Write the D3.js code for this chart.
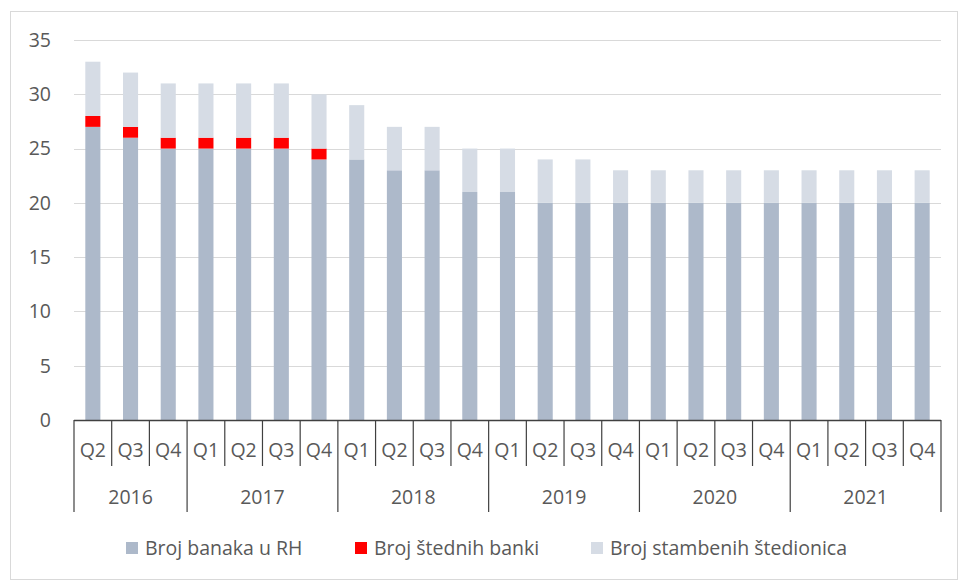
<!DOCTYPE html>
<html>
<head>
<meta charset="utf-8">
<script src="https://cdn.jsdelivr.net/npm/d3@7"></script>
<style>
  body { margin: 0; background: #fff; }
  svg text { font-family: "Open Sans", "Noto Sans", sans-serif; fill: #595959; }
</style>
</head>
<body>
<div id="chart"></div>
<script>
const years = ["2016", "2017", "2018", "2019", "2020", "2021"];
const quarters = [
  "Q2", "Q3", "Q4",
  "Q1", "Q2", "Q3", "Q4",
  "Q1", "Q2", "Q3", "Q4",
  "Q1", "Q2", "Q3", "Q4",
  "Q1", "Q2", "Q3", "Q4",
  "Q1", "Q2", "Q3", "Q4"
];
const quarterYear = [
  "2016", "2016", "2016",
  "2017", "2017", "2017", "2017",
  "2018", "2018", "2018", "2018",
  "2019", "2019", "2019", "2019",
  "2020", "2020", "2020", "2020",
  "2021", "2021", "2021", "2021"
];
const banks = [27, 26, 25, 25, 25, 25, 24, 24, 23, 23, 21, 21, 20, 20, 20, 20, 20, 20, 20, 20, 20, 20, 20];
const savingsBanks = [1, 1, 1, 1, 1, 1, 1, 0, 0, 0, 0, 0, 0, 0, 0, 0, 0, 0, 0, 0, 0, 0, 0];
const housingSavings = [5, 5, 5, 5, 5, 5, 5, 5, 4, 4, 4, 4, 4, 4, 3, 3, 3, 3, 3, 3, 3, 3, 3];
const seriesNames = ["Broj banaka u RH", "Broj štednih banki", "Broj stambenih štedionica"];
const seriesColors = ["#adb9ca", "#ff0000", "#d6dce5"];
const yTicks = [0, 5, 10, 15, 20, 25, 30, 35];

const width = 960, height = 582;
const margin = { left: 74, right: 19, top: 40, bottom: 162 };
const FONT = "19.5px";

const svg = d3.select("#chart").append("svg")
  .attr("width", width)
  .attr("height", height);

// outer frame
svg.append("rect")
  .attr("x", 10.5).attr("y", 11.5)
  .attr("width", 947).attr("height", 568)
  .attr("fill", "none")
  .attr("stroke", "#d9d9d9");

const idx = d3.range(quarters.length);
const x = d3.scaleBand()
  .domain(idx)
  .range([margin.left, width - margin.right])
  .paddingInner(0.6)
  .paddingOuter(0.3);

const y = d3.scaleLinear()
  .domain([0, 35])
  .range([height - margin.bottom, margin.top]);

// gridlines
svg.append("g")
  .selectAll("line")
  .data(yTicks.filter(d => d > 0))
  .join("line")
  .attr("x1", margin.left)
  .attr("x2", width - margin.right)
  .attr("y1", d => Math.round(y(d)) + 0.5)
  .attr("y2", d => Math.round(y(d)) + 0.5)
  .attr("stroke", "#d9d9d9")
  .attr("stroke-width", 1.2);

// y labels
svg.append("g")
  .selectAll("text")
  .data(yTicks)
  .join("text")
  .attr("x", 51)
  .attr("y", d => y(d))
  .attr("dy", "0.35em")
  .attr("text-anchor", "end")
  .style("font-size", FONT)
  .text(d => d);

// stacked bars
const rows = idx.map(i => ({ i, banks: banks[i], savings: savingsBanks[i], housing: housingSavings[i] }));
const stack = d3.stack().keys(["banks", "savings", "housing"]);
const stacked = stack(rows);

svg.append("g")
  .selectAll("g")
  .data(stacked)
  .join("g")
  .attr("fill", (d, k) => seriesColors[k])
  .selectAll("rect")
  .data(d => d)
  .join("rect")
  .attr("x", d => x(d.data.i))
  .attr("width", x.bandwidth())
  .attr("y", d => y(d[1]))
  .attr("height", d => y(d[0]) - y(d[1]));

// category axis
const step = x.step();
const left0 = margin.left;
const axisY = y(0);
const axisG = svg.append("g");

axisG.append("line")
  .attr("x1", left0).attr("x2", width - margin.right)
  .attr("y1", axisY + 0.5).attr("y2", axisY + 0.5)
  .attr("stroke", "#404040").attr("stroke-width", 1.5);

// quarter separators
axisG.selectAll("line.q")
  .data(d3.range(quarters.length + 1))
  .join("line")
  .attr("class", "q")
  .attr("x1", i => left0 + i * step)
  .attr("x2", i => left0 + i * step)
  .attr("y1", axisY)
  .attr("y2", axisY + 46)
  .attr("stroke", "#404040").attr("stroke-width", 1.2);

axisG.selectAll("text.q")
  .data(idx)
  .join("text")
  .attr("class", "q")
  .attr("x", i => left0 + (i + 0.5) * step)
  .attr("y", axisY + 30)
  .attr("dy", "0.35em")
  .attr("text-anchor", "middle")
  .style("font-size", FONT)
  .text(i => quarters[i]);

// year groups
const yearSpans = years.map(yr => {
  const first = quarterYear.indexOf(yr);
  const last = quarterYear.lastIndexOf(yr);
  return { yr, first, last };
});

axisG.selectAll("line.yr")
  .data([0].concat(yearSpans.map(s => s.last + 1)))
  .join("line")
  .attr("class", "yr")
  .attr("x1", i => left0 + i * step)
  .attr("x2", i => left0 + i * step)
  .attr("y1", axisY + 46)
  .attr("y2", axisY + 92)
  .attr("stroke", "#404040").attr("stroke-width", 1.2);

axisG.selectAll("text.yr")
  .data(yearSpans)
  .join("text")
  .attr("class", "yr")
  .attr("x", s => left0 + ((s.first + s.last + 1) / 2) * step)
  .attr("y", axisY + 77)
  .attr("dy", "0.35em")
  .attr("text-anchor", "middle")
  .style("font-size", FONT)
  .text(s => s.yr);

// legend
const legendX = [126, 355, 591];
const legend = svg.append("g")
  .selectAll("g")
  .data(seriesNames)
  .join("g")
  .attr("transform", (d, k) => `translate(${legendX[k]}, 542)`);

legend.append("rect")
  .attr("width", 12).attr("height", 12)
  .attr("fill", (d, k) => seriesColors[k]);

legend.append("text")
  .attr("x", 19)
  .attr("y", 6)
  .attr("dy", "0.35em")
  .style("font-size", FONT)
  .text(d => d);
</script>
</body>
</html>
